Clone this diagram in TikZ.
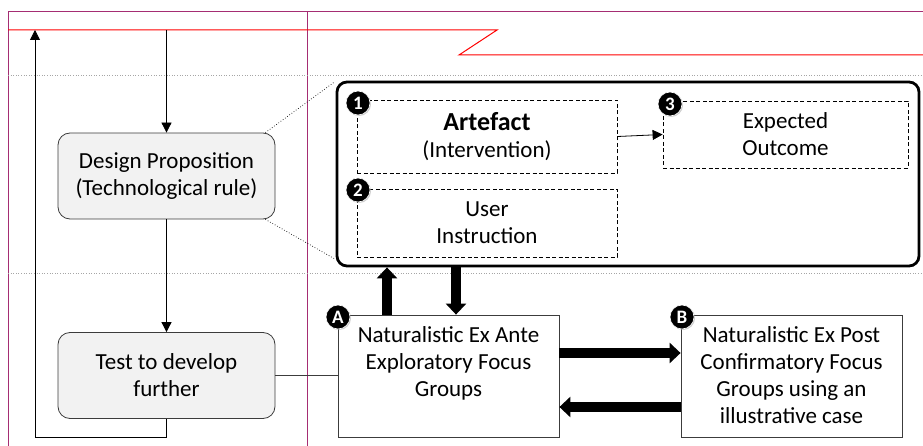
\documentclass[tikz,border=0pt]{standalone}
\usepackage{fontspec}
\setmainfont{Carlito}
\usetikzlibrary{arrows.meta,calc,shadows}
\definecolor{frame}{RGB}{165,45,115}
\definecolor{boxfill}{RGB}{242,242,242}
\definecolor{boxline}{RGB}{60,60,60}
\begin{document}
\begin{tikzpicture}[x=1pt,y=-1pt,
  txt/.style={font=\fontsize{23}{27}\selectfont, align=center, inner sep=0pt},
  roundbox/.style={txt, draw=boxline, fill=boxfill, rounded corners=12pt,
    minimum width=217pt, minimum height=86pt, line width=0.8pt},
  dashbox/.style={txt, draw, dash pattern=on 4pt off 2.5pt, line width=0.8pt},
  plainbox/.style={draw=boxline, fill=white, line width=0.8pt,
    minimum width=221pt, minimum height=122pt},
  badge/.style={circle, fill=black, text=white, draw=white, line width=0.6pt,
    font=\fontsize{19}{19}\bfseries\selectfont, inner sep=0pt, minimum size=24pt,
    drop shadow={shadow xshift=1pt, shadow yshift=-1pt, opacity=0.4}},
  flow/.style={-{Triangle[length=10pt,width=10pt]}, line width=0.8pt},
  bigarrow/.style={-{Triangle[length=11pt,width=20pt]}, line width=10pt},
  guide/.style={gray!70, dotted, line width=0.6pt},
]
\useasboundingbox (0,0) rectangle (923,446);

% page frame and guides
\draw[frame, line width=1pt] (8,446) -- (8,12) -- (923,12);
\draw[frame, line width=1pt] (307,12) -- (307,446);
\draw[red, line width=1pt] (8,30) -- (497,30) -- (459,55) -- (923,55);
\draw[guide] (8,75) -- (923,75);
\draw[guide] (8,273) -- (923,273);

% left column
\node[roundbox] (design) at (166.5,176) {Design Proposition\\(Technological rule)};
\node[roundbox] (test) at (166.5,375.5) {Test to develop\\further};

\coordinate (topin) at (166.5,30);
\coordinate (loopbot) at (166.5,437);
\coordinate (loopleft) at (35,437);
\coordinate (looptop) at (35,30);

\draw[flow] (topin) -- (design.north);
\draw[flow] (design.south) -- (test.north);
\draw[flow] (test.south) -- (loopbot) -- (loopleft) -- (looptop);

% design proposition content
\node[draw, line width=2.8pt, rounded corners=10pt, minimum width=582pt,
  minimum height=184pt] (big) at (628,174) {};

\node[dashbox, minimum width=260pt, minimum height=73pt] (artefact) at (487,136.5)
  {{\fontsize{26}{29}\bfseries\selectfont Artefact}\\(Intervention)};
\node[dashbox, minimum width=260pt, minimum height=68pt] (user) at (487,223)
  {User\\Instruction};
\node[dashbox, minimum width=245pt, minimum height=67pt] (outcome) at (785.5,134.5)
  {Expected\\Outcome};
\draw[flow] (artefact.east) -- (outcome.west);

\draw[dotted, line width=0.7pt] ($(design.north east)+(-10,0)$) -- ($(big.north west)+(-2,2)$);
\draw[dotted, line width=0.7pt] ($(design.south east)+(-10,0)$) -- ($(big.south west)+(0,-8)$);

% evaluation episodes
\node[plainbox] (A) at (448.5,376) {};
\node[txt] (Atext) at (448.5,363) {Naturalistic Ex Ante\\Exploratory Focus\\Groups};
\node[plainbox] (B) at (791.5,376) {};
\node[txt] (Btext) at (791.5,375.5)
  {Naturalistic Ex Post\\Confirmatory Focus\\Groups using an\\illustrative case};

\draw[boxline, line width=0.8pt] (test.east) -- (A.west |- test.east);

\draw[bigarrow] ([xshift=-61.5pt]A.north) -- ([xshift=-61.5pt]A.north |- big.south);
\draw[bigarrow] ([xshift=7.5pt]A.north |- big.south) -- ([xshift=7.5pt]A.north);

\coordinate (fwd) at (0,353);
\coordinate (back) at (0,407);
\draw[bigarrow] (A.east |- fwd) -- (B.west |- fwd);
\draw[bigarrow] (B.west |- back) -- (A.east |- back);

% numbered badges
\node[badge] (b1) at (358,103) {1};
\node[badge] (b2) at (358,190) {2};
\node[badge] (b3) at (670,104) {3};
\node[badge] (bA) at (338,317) {A};
\node[badge] (bB) at (682,317) {B};
\end{tikzpicture}
\end{document}
